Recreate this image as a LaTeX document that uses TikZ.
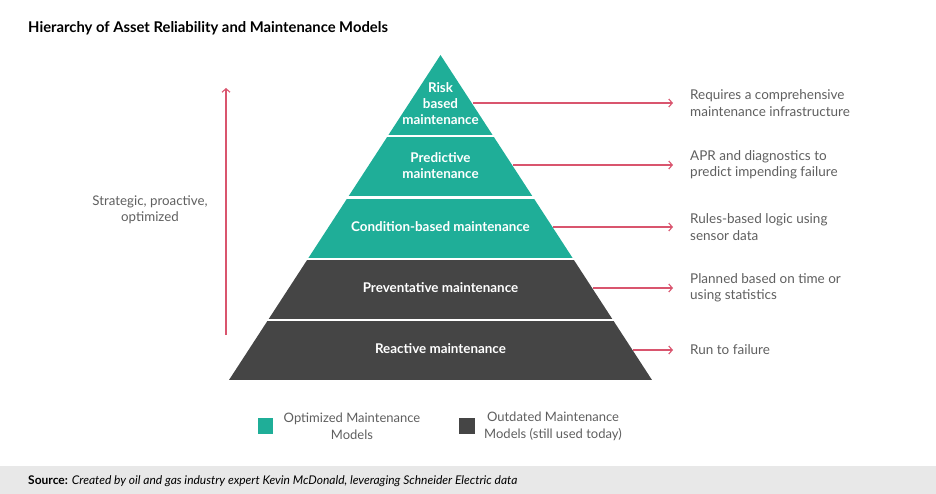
\documentclass[tikz,border=0pt]{standalone}
\usepackage{fontspec}
\setmainfont{Lato}
\usetikzlibrary{arrows.meta}
\definecolor{optteal}{HTML}{1FAE98}
\definecolor{olddark}{HTML}{454545}
\definecolor{arrowred}{HTML}{D9556E}
\definecolor{notegray}{HTML}{5F5F5F}
\definecolor{footgray}{HTML}{E8E8E8}
\tikzset{
  layertext/.style={text=white, font=\bfseries\fontsize{13.4}{16}\selectfont, align=center, inner sep=0pt},
  notetext/.style={text=notegray, font=\fontsize{13.5}{16.5}\selectfont, align=left, anchor=west, inner sep=0pt},
  keytext/.style={text=notegray, font=\fontsize{13}{17}\selectfont, align=center, inner sep=0pt},
  redarrow/.style={draw=arrowred, line width=1.1pt, -{Straight Barb[length=3.5pt,width=8pt]}},
  legendbox/.style={minimum size=15.5pt, inner sep=0pt}
}
\begin{document}
\begin{tikzpicture}[x=1pt, y=-1pt]
    \useasboundingbox (0,0) rectangle (936,494);

    % title
    \node[anchor=west, inner sep=0pt, font=\bfseries\fontsize{14.8}{17}\selectfont] (title) at (28,28) {Hierarchy of Asset Reliability and Maintenance Models};

    % pyramid
    \coordinate (apex) at (440.5,55);
    \coordinate (baseL) at (229,380);
    \coordinate (baseR) at (652,380);
    \begin{scope}
        \clip (apex) -- (baseL) -- (baseR) -- cycle;
        \fill[optteal] (229,50) rectangle (652,135);
        \fill[optteal] (229,137.5) rectangle (652,196.5);
        \fill[optteal] (229,199) rectangle (652,257.5);
        \fill[olddark] (229,260) rectangle (652,318.5);
        \fill[olddark] (229,321) rectangle (652,380);
    \end{scope}

    \node[layertext] (lay1) at (440.5,104) {Risk\\based\\maintenance};
    \node[layertext] (lay2) at (440.5,166) {Predictive\\maintenance};
    \node[layertext] (lay3) at (440.5,227) {Condition-based maintenance};
    \node[layertext] (lay4) at (440.5,288) {Preventative maintenance};
    \node[layertext] (lay5) at (440.5,349) {Reactive maintenance};

    % right side notes
    \node[notetext] (note1) at (690,103) {Requires a comprehensive\\maintenance infrastructure};
    \node[notetext] (note2) at (690,165) {APR and diagnostics to\\predict impending failure};
    \node[notetext] (note3) at (690,227) {Rules-based logic using\\sensor data};
    \node[notetext] (note4) at (690,288) {Planned based on time or\\using statistics};
    \node[notetext] (note5) at (690,350) {Run to failure};

    \coordinate (edge1) at (473,103);
    \coordinate (edge2) at (513,165);
    \coordinate (edge3) at (553,227);
    \coordinate (edge4) at (593,288);
    \coordinate (edge5) at (633,350);

    \draw[redarrow, shorten >=17pt] (edge1) -- (edge1 -| note1.west);
    \draw[redarrow, shorten >=17pt] (edge2) -- (edge2 -| note2.west);
    \draw[redarrow, shorten >=17pt] (edge3) -- (edge3 -| note3.west);
    \draw[redarrow, shorten >=17pt] (edge4) -- (edge4 -| note4.west);
    \draw[redarrow, shorten >=17pt] (edge5) -- (edge5 -| note5.west);

    % left side
    \node[text=notegray, font=\fontsize{13.3}{16.5}\selectfont, align=center, inner sep=0pt] (strat) at (150,210) {Strategic, proactive,\\optimized};
    \coordinate (upbot) at (226,335);
    \coordinate (uptop) at (226,88);
    \draw[redarrow] (upbot) -- (uptop);

    % legend
    \node[legendbox, fill=optteal] (keyopt) at (265.5,426) {};
    \node[keytext] (keyopttxt) at (352,426) {Optimized Maintenance\\Models};
    \node[legendbox, fill=olddark] (keyold) at (467,426) {};
    \node[keytext] (keyoldtxt) at (553,426) {Outdated Maintenance\\Models (still used today)};

    % source band
    \fill[footgray] (0,466) rectangle (936,494);
    \node[anchor=west, inner sep=0pt, font=\fontsize{12}{13}\selectfont] (source) at (28,481) {\textbf{Source:} \textit{Created by oil and gas industry expert Kevin McDonald, leveraging Schneider Electric data}};
\end{tikzpicture}
\end{document}
